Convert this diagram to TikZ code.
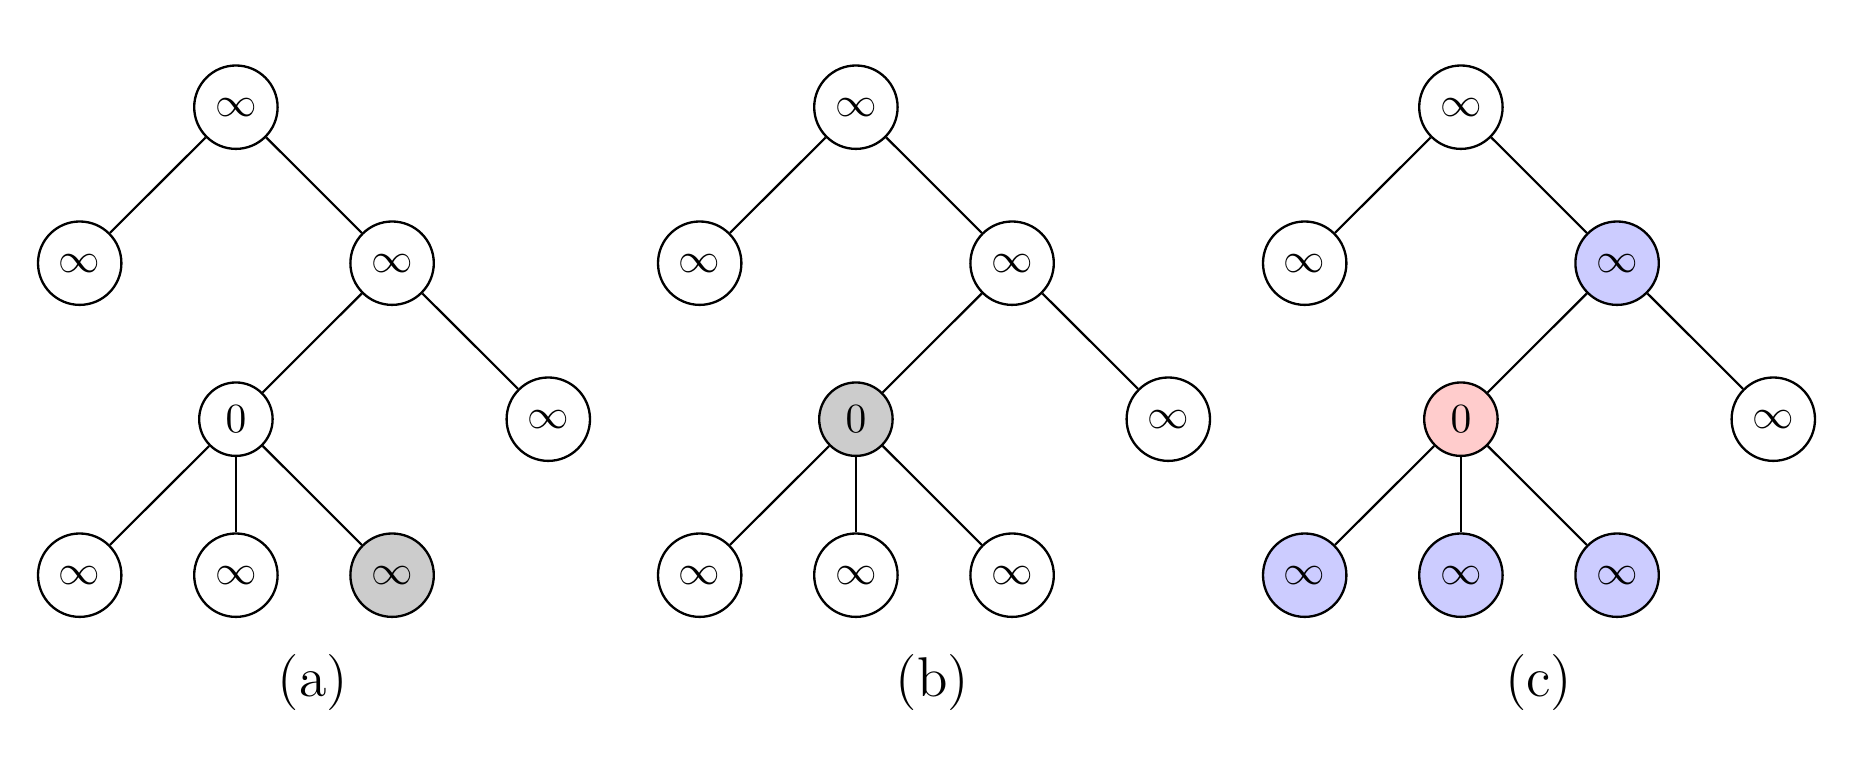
\documentclass[tikz,border=0pt]{standalone}
\begin{document}
\begin{tikzpicture}[x=0.241pt,y=-0.241pt,
  infn/.style={circle,draw,line width=0.56pt,minimum size=20.1pt,inner sep=0pt},
  zeron/.style={circle,draw,line width=0.56pt,minimum size=17.7pt,inner sep=0pt},
  edge/.style={line width=0.52pt},
  caplabel/.style={font=\fontsize{13.5}{16}\selectfont,inner sep=0pt}]
\useasboundingbox (0,0) rectangle (1853,760);
\newcommand\mytree[7]{%
  \begin{scope}[xshift=#2*0.241pt]
    \node[infn] (#1r) at (235.9,107.2) {$\infty$};
    \node[infn] (#1l) at (79.7,263.2) {$\infty$};
    \node[infn,fill=#3] (#1m) at (392.1,263.2) {$\infty$};
    \node[zeron,fill=#4] (#1z) at (235.9,419.2) {$0$};
    \node[infn] (#1q) at (548.3,419.2) {$\infty$};
    \node[infn,fill=#5] (#1x) at (79.7,575.2) {$\infty$};
    \node[infn,fill=#6] (#1y) at (235.9,575.2) {$\infty$};
    \node[infn,fill=#7] (#1w) at (392.1,575.2) {$\infty$};
    \draw[edge] (#1r) -- (#1l);
    \draw[edge] (#1r) -- (#1m);
    \draw[edge] (#1m) -- (#1z);
    \draw[edge] (#1m) -- (#1q);
    \draw[edge] (#1z) -- (#1x);
    \draw[edge] (#1z) -- (#1y);
    \draw[edge] (#1z) -- (#1w);
  \end{scope}}
\mytree{a}{0}{white}{white}{white}{white}{black!20}
\mytree{b}{620}{white}{black!20}{white}{white}{white}
\mytree{c}{1225}{blue!20}{red!20}{blue!20}{blue!20}{blue!20}
\node[caplabel] (la) at (313,683) {(a)};
\node[caplabel] (lb) at (932.5,683) {(b)};
\node[caplabel] (lc) at (1538.7,683) {(c)};
\end{tikzpicture}
\end{document}
